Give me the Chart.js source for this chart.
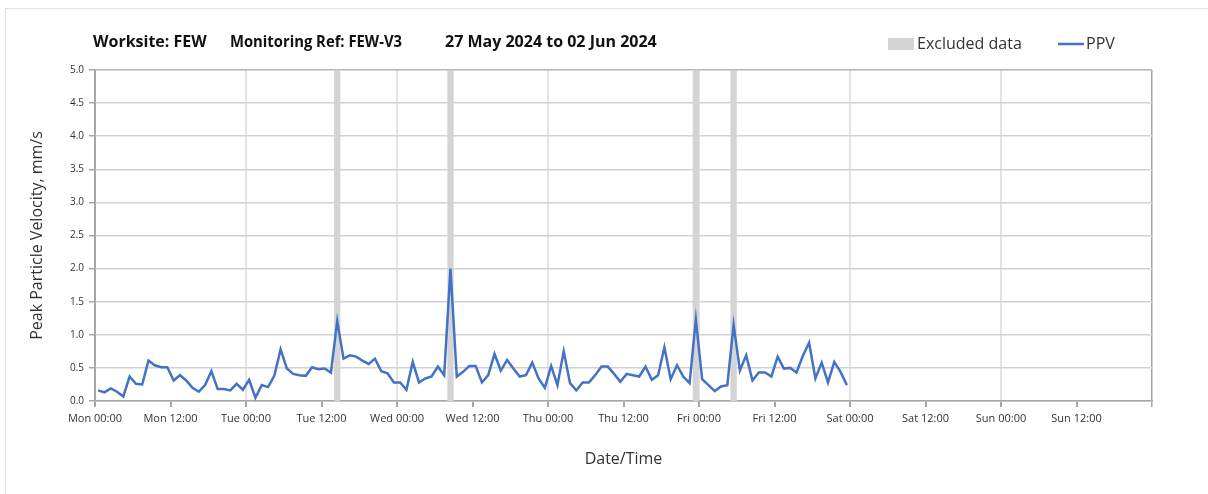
<!DOCTYPE html>
<html>
<head>
<meta charset="utf-8">
<title>PPV FEW-V3</title>
<script src="https://cdn.jsdelivr.net/npm/chart.js@4.4.0/dist/chart.umd.min.js"></script>
<style>
  body { margin: 0; background: #fff; }
  #wrap { width: 1208px; height: 494px; }
</style>
</head>
<body>
<div id="wrap"><canvas id="ppv-chart" width="1208" height="494"></canvas></div>
<script>
// hourly PPV readings, mm/s (Mon 00:30 onwards)
const ppvValues = [
  0.16, 0.13, 0.19, 0.14, 0.07, 0.37, 0.26, 0.25, 0.61, 0.54,
  0.51, 0.51, 0.31, 0.39, 0.31, 0.20, 0.14, 0.24, 0.45, 0.18,
  0.18, 0.16, 0.26, 0.17, 0.32, 0.05, 0.24, 0.21, 0.38, 0.78,
  0.49, 0.41, 0.39, 0.38, 0.51, 0.48, 0.49, 0.43,
  1.21, 0.64, 0.69, 0.67, 0.61, 0.56, 0.64, 0.45, 0.42, 0.28,
  0.28, 0.17, 0.59, 0.28, 0.34, 0.37, 0.52, 0.39, 2.00, 0.37,
  0.44, 0.53, 0.53, 0.28, 0.39, 0.71, 0.46, 0.62, 0.49, 0.37,
  0.39, 0.58, 0.34, 0.20, 0.53, 0.24, 0.75, 0.27, 0.16, 0.28,
  0.28, 0.39, 0.52, 0.52,
  0.41, 0.29, 0.41, 0.39, 0.37, 0.52, 0.32, 0.39, 0.81, 0.33,
  0.54, 0.37, 0.27, 1.23, 0.33, 0.24, 0.15, 0.22, 0.24, 1.15,
  0.46, 0.69, 0.31, 0.43, 0.43, 0.37, 0.67, 0.49, 0.50, 0.43,
  0.68, 0.88, 0.34, 0.58, 0.28, 0.59, 0.44, 0.24
];
const firstReadingHour = 0.5; // hours after Mon 00:00

// excluded periods, hours after Mon 00:00
const excludedStart = [38, 56, 95, 101];
const excludedEnd = [39, 57, 96, 102];

const dayNames = ['Mon', 'Tue', 'Wed', 'Thu', 'Fri', 'Sat', 'Sun'];
const yTicks = [0, 0.5, 1, 1.5, 2, 2.5, 3, 3.5, 4, 4.5, 5];

const titleParts = ['Worksite: FEW', 'Monitoring Ref: FEW-V3', '27 May 2024 to 02 Jun 2024'];

const lineColor = '#4472c4';
const bandColor = '#d4d4d4';
const axisColor = '#a6a6a6';
const fontFamily = '"Open Sans", "Noto Sans", sans-serif';

let points = [];
for (let i = 0; i < ppvValues.length; i++) {
  points.push({ x: firstReadingHour + i, y: ppvValues[i] });
}

// grey bands for excluded data
const excludedBands = {
  id: 'excludedBands',
  beforeDatasetsDraw(chart) {
    const { ctx, chartArea, scales } = chart;
    ctx.save();
    ctx.fillStyle = bandColor;
    for (let i = 0; i < excludedStart.length; i++) {
      const x1 = scales.x.getPixelForValue(excludedStart[i]);
      const x2 = scales.x.getPixelForValue(excludedEnd[i]);
      ctx.fillRect(x1, chartArea.top, x2 - x1, chartArea.bottom - chartArea.top);
    }
    ctx.restore();
  }
};

// header line: title on the left, legend on the right, plus frame
const header = {
  id: 'header',
  afterDraw(chart) {
    const ctx = chart.ctx;
    ctx.save();
    ctx.strokeStyle = '#e2e2e2';
    ctx.lineWidth = 1;
    ctx.strokeRect(5.5, 8.5, 1400, 600);

    ctx.fillStyle = '#111';
    ctx.font = 'bold 16px ' + fontFamily;
    ctx.textBaseline = 'middle';
    ctx.fillText(titleParts[0], 93, 42, 120);
    ctx.fillText(titleParts[1], 230, 42, 172);
    ctx.fillText(titleParts[2], 445, 42, 214);

    ctx.font = '16px ' + fontFamily;
    ctx.fillStyle = bandColor;
    ctx.fillRect(888, 38, 26, 12);
    ctx.fillStyle = '#333';
    ctx.fillText('Excluded data', 917, 44, 108);

    ctx.strokeStyle = lineColor;
    ctx.lineWidth = 2.5;
    ctx.beginPath();
    ctx.moveTo(1058, 44);
    ctx.lineTo(1084, 44);
    ctx.stroke();
    ctx.fillStyle = '#333';
    ctx.fillText('PPV', 1086, 44);
    ctx.restore();
  }
};

new Chart(document.getElementById('ppv-chart'), {
  type: 'line',
  data: {
    datasets: [{
      label: 'PPV',
      data: points,
      borderColor: lineColor,
      backgroundColor: lineColor,
      borderWidth: 2.5,
      pointRadius: 0,
      tension: 0
    }]
  },
  options: {
    responsive: false,
    animation: false,
    devicePixelRatio: 1,
    layout: {
      padding: { top: 70, right: 56, left: 0, bottom: 0 }
    },
    plugins: {
      legend: { display: false },
      title: { display: false },
      tooltip: { enabled: false }
    },
    scales: {
      x: {
        type: 'linear',
        min: 0,
        max: 168,
        afterFit: function (axis) { axis.height = 93; },
        afterBuildTicks: function (axis) {
          let t = [];
          for (let h = 0; h <= 168; h += 12) t.push({ value: h });
          axis.ticks = t;
        },
        ticks: {
          autoSkip: false,
          maxRotation: 0,
          padding: 5,
          color: '#333',
          font: { family: fontFamily, size: 11 },
          callback: function (value) {
            if (value >= 168) return '';
            const day = dayNames[Math.floor(value / 24)];
            return day + (value % 24 === 0 ? ' 00:00' : ' 12:00');
          }
        },
        grid: {
          color: function (ctx) {
            const v = ctx.tick ? ctx.tick.value : 0;
            if (v === 0 || v === 168) return axisColor;
            return v % 24 === 0 ? '#e4e4e4' : 'rgba(0,0,0,0)';
          },
          lineWidth: function (ctx) {
            const v = ctx.tick ? ctx.tick.value : 0;
            return v === 168 ? 1.5 : 2;
          },
          tickColor: axisColor,
          tickLength: 6,
          drawTicks: true
        },
        border: { color: axisColor, width: 1.5 },
        title: {
          display: true,
          text: 'Date/Time',
          color: '#333',
          font: { family: fontFamily, size: 16 },
          padding: { top: 0, bottom: 25 }
        }
      },
      y: {
        min: 0,
        max: 5,
        afterFit: function (axis) { axis.width = 95; },
        afterBuildTicks: function (axis) {
          axis.ticks = yTicks.map(function (v) { return { value: v }; });
        },
        ticks: {
          padding: 5,
          color: '#333',
          font: { family: fontFamily, size: 10 },
          callback: function (value) { return value.toFixed(1); }
        },
        grid: {
          color: function (ctx) {
            const v = ctx.tick ? ctx.tick.value : 0;
            return v === 5 ? '#b4b4b4' : '#d2d2d2';
          },
          lineWidth: 1.5,
          tickColor: axisColor,
          tickLength: 6
        },
        border: { color: axisColor, width: 1.5 },
        title: {
          display: true,
          text: 'Peak Particle Velocity, mm/s',
          color: '#333',
          font: { family: fontFamily, size: 16 },
          padding: { top: 28, bottom: 0 }
        }
      }
    }
  },
  plugins: [excludedBands, header]
});
</script>
</body>
</html>
